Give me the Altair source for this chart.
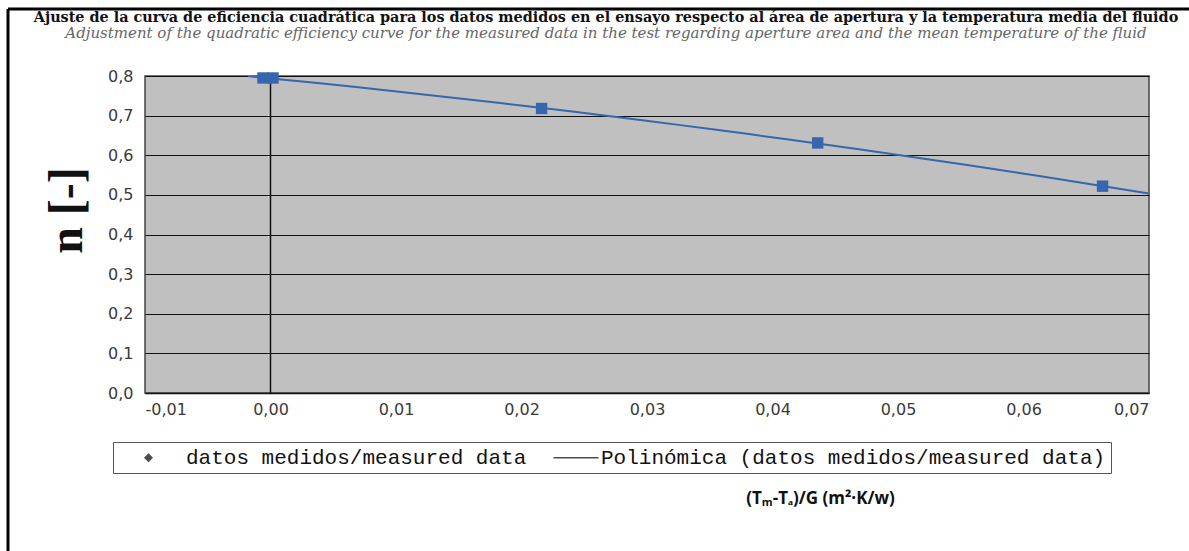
import altair as alt
import pandas as pd

# Measured efficiency points: reduced temperature difference vs. efficiency
x_measured = [-0.0006, 0.0002, 0.0216, 0.0436, 0.0663]
eta_measured = [0.795, 0.795, 0.718, 0.631, 0.522]

# Axis tick values
x_ticks = [-0.01, 0.0, 0.01, 0.02, 0.03, 0.04, 0.05, 0.06, 0.07]
y_ticks = [0.0, 0.1, 0.2, 0.3, 0.4, 0.5, 0.6, 0.7, 0.8]

# Legend entries
series_names = ["datos medidos/measured data",
                "Polinómica (datos medidos/measured data)"]

title_es = ("Ajuste de la curva de eficiencia cuadrática para los datos medidos en el "
            "ensayo respecto al área de apertura y la temperatura media del fluido")
title_en = ("Adjustment of the quadratic efficiency curve for the measured data in the "
            "test regarding aperture area and the mean temperature of the fluid")

points = pd.DataFrame({"x": x_measured, "eta": eta_measured,
                       "serie": series_names[0]})

BLUE = "#3566ae"

# Legend glyphs: a small diamond and a horizontal line segment
DIAMOND = "M0,-0.45L0.45,0L0,0.45L-0.45,0Z"
LINE = "M-1,-0.08H3.5V0.08H-1Z"

x_scale = alt.Scale(domain=[-0.01, 0.07], nice=False, zero=False)
y_scale = alt.Scale(domain=[0.0, 0.8], nice=False)

x_axis = alt.Axis(
    values=x_ticks, grid=False, ticks=False, domainColor="#111", domainWidth=1.5,
    labelExpr="replace(replace(format(datum.value, '.2f'), '.', ','), '\u2212', '-')",
    labelFont="DejaVu Sans", labelFontSize=16, labelColor="#3a3a3a", labelPadding=8,
    labelOverlap=False,
    title="(Tₘ-Tₐ)/G (m²·K/w)", titleFont="Open Sans", titleFontSize=17,
    titleFontWeight="bold", titleColor="#111", titleX=675, titleY=105,
    titleAlign="center", titleBaseline="middle",
)
y_axis = alt.Axis(
    values=y_ticks, tickCount=9, grid=True, gridColor="#111", gridWidth=1.2,
    ticks=False, domain=False, labelOverlap=False,
    labelExpr="replace(format(datum.value, '.1f'), '.', ',')",
    labelFont="DejaVu Sans", labelFontSize=16, labelColor="#3a3a3a", labelPadding=12,
    title="n [-]", titleFont="Liberation Serif", titleFontSize=48,
    titleFontWeight="bold", titleColor="#111", titleX=-78, titleY=134,
    titleAlign="center", titleBaseline="middle", titleAngle=270,
)

X = alt.X("x:Q", scale=x_scale, axis=x_axis)
Y = alt.Y("eta:Q", scale=y_scale, axis=y_axis)

base = alt.Chart(points)

# Quadratic fit through the measured points
fit = base.transform_regression(
    "x", "eta", method="poly", order=2, extent=[-0.0018, 0.07]
).mark_line(color=BLUE, strokeWidth=2, clip=True).encode(x=X, y=Y)

markers = base.mark_point(shape="square", filled=True, size=130, color=BLUE,
                          opacity=1).encode(x=X, y=Y)

# Vertical axis line at x = 0
zero_line = alt.Chart(alt.Data(values=[{"x0": 0.0}])).mark_rule(
    color="#111", strokeWidth=1.5).encode(x=alt.X("x0:Q", scale=x_scale, axis=x_axis))

# Legend (drawn from scale domains; no visible marks)
legend_layer = base.transform_filter("false").mark_point(
    filled=True, size=400).encode(
    x=X, y=Y,
    color=alt.Color("serie:N",
                    scale=alt.Scale(domain=series_names, range=["#000", "#000"]),
                    legend=alt.Legend(
                        title=None, orient="none", direction="horizontal",
                        legendX=-32, legendY=366, padding=5,
                        strokeColor="#555", fillColor="#fff",
                        labelFont="Liberation Mono", labelFontSize=21,
                        labelColor="#111", labelOffset=27, columnPadding=6,
                        labelLimit=0, symbolSize=400, symbolOffset=20,
                        symbolStrokeWidth=0)),
    shape=alt.Shape("serie:N",
                    scale=alt.Scale(domain=series_names, range=[DIAMOND, LINE]),
                    legend=alt.Legend(title=None)),
)

# Outer frame lines (top and left)
frame_left = alt.Chart(alt.Data(values=[{}])).mark_rule(
    color="#000", strokeWidth=3).encode(
    x=alt.value(-137), y=alt.value(-67), y2=alt.value(475))
frame_top = alt.Chart(alt.Data(values=[{}])).mark_rule(
    color="#000", strokeWidth=3).encode(
    x=alt.value(-137), x2=alt.value(1044), y=alt.value(-67))

chart = alt.layer(
    fit, zero_line, markers, legend_layer, frame_left, frame_top
).properties(
    width=1004, height=317,
    title=alt.Title(
        text=title_es, subtitle=title_en, anchor="middle", dx=-41, offset=0, dy=34,
        font="DejaVu Serif", fontSize=14.4, fontWeight="bold", color="#111",
        subtitleFont="DejaVu Serif", subtitleFontStyle="italic",
        subtitleFontSize=15, subtitleColor="#666", subtitlePadding=0,
    ),
    autosize=alt.AutoSizeParams(type="none"),
    padding={"left": 145, "top": 76, "right": 40, "bottom": 158},
    background="#ffffff",
).configure_view(
    fill="#c0c0c0", stroke="#444", strokeWidth=1.5
)

chart.save("out.html", embed_options={"renderer": "svg", "actions": False})
